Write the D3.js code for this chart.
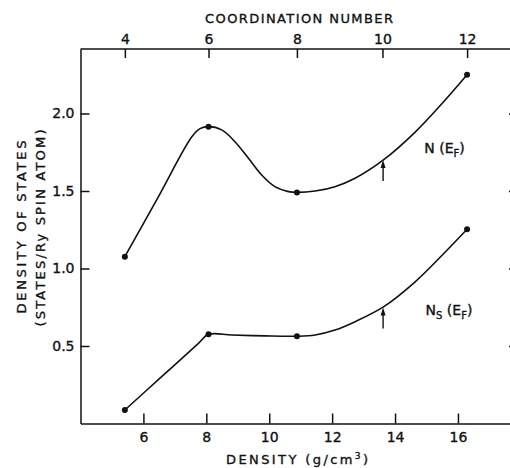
<!DOCTYPE html>
<html>
<head>
<meta charset="utf-8">
<script src="https://cdn.jsdelivr.net/npm/d3@7"></script>
<style>
body { margin: 0; background: #fff; }
text { font-family: "DejaVu Sans", sans-serif; fill: #111; stroke: #111; stroke-width: 0.35px; }
</style>
</head>
<body>
<svg id="chart" width="510" height="468"></svg>
<script>
// the four calculated points (dots)
let densities = [5.41, 8.07, 10.88, 16.29];
let nEF = [1.076, 1.915, 1.491, 2.25];
let nsEF = [0.087, 0.575, 0.563, 1.253];

// the smooth curves as drawn
let nCurveD = [5.41, 6.47, 7.54, 7.80, 8.07, 8.49, 8.91, 9.34, 9.76, 10.18, 10.61, 10.88, 11.46, 12.09, 12.73, 13.63, 14.64, 15.48, 16.29];
let nCurveV = [1.076, 1.461, 1.850, 1.902, 1.915, 1.894, 1.818, 1.711, 1.603, 1.528, 1.496, 1.491, 1.500, 1.528, 1.582, 1.700, 1.880, 2.061, 2.25];
let nsCurveD = [5.41, 6.58, 7.75, 8.07, 8.81, 9.87, 10.88, 11.46, 12.09, 12.73, 13.63, 14.64, 15.48, 16.29];
let nsCurveV = [0.087, 0.302, 0.517, 0.575, 0.571, 0.565, 0.563, 0.571, 0.603, 0.657, 0.752, 0.914, 1.082, 1.253];

let densityTicks = [6, 8, 10, 12, 14, 16];
let dosTicks = [0.5, 1.0, 1.5, 2.0];
let coordTicks = [4, 6, 8, 10, 12];
let coordDensity = [5.41, 8.07, 10.88, 13.6, 16.29];
let arrowDensity = 13.62;
let arrowTips = [1.70, 0.748];
let labelDensity = [14.93, 14.97];
let labelValues = [1.745, 0.70];

let svg, x, y, xTop;

document.addEventListener("DOMContentLoaded", function(){
    svg = d3.select('#chart');
    makeScales();
    drawAxes();
    drawCurve(nCurveD, nCurveV, nEF);
    drawCurve(nsCurveD, nsCurveV, nsEF);
    drawArrows();
    drawLabels();
});

function makeScales(){
    x = d3.scaleLinear()
        .domain([4, 17.75])
        .range([80.5, 513]);
    y = d3.scaleLinear()
        .domain([0, 2.416])
        .range([423.5, 49]);
    // coordination number sits on the density axis, not linear
    xTop = d3.scaleLinear()
        .domain(coordTicks)
        .range(coordDensity.map(d => x(d)));
}

function styleAxis(g){
    g.selectAll("path, line").attr("stroke", "#111").attr("stroke-width", 1.5);
    g.selectAll("text").attr("font-size", 14).attr("fill", "#111")
        .attr("font-family", '"DejaVu Sans", sans-serif');
}

function drawAxes(){
    svg.append("g")
        .attr("transform", `translate(0,${y(0)})`)
        .call(d3.axisBottom(x).tickValues(densityTicks)
            .tickSizeInner(-10).tickSizeOuter(0).tickPadding(9))
        .call(styleAxis);

    svg.append("g")
        .attr("transform", `translate(${x(4)},0)`)
        .call(d3.axisLeft(y).tickValues(dosTicks).tickFormat(d3.format(".1f"))
            .tickSizeInner(-9).tickSizeOuter(0).tickPadding(6))
        .call(styleAxis);

    // right axis is mostly off the page, only the tick stubs show
    svg.append("g")
        .attr("transform", `translate(${x(17.75)},0)`)
        .call(d3.axisRight(y).tickValues(dosTicks).tickFormat("")
            .tickSizeInner(-4).tickSizeOuter(0))
        .call(styleAxis);

    svg.append("g")
        .attr("transform", `translate(0,${y.range()[1]})`)
        .call(d3.axisTop(xTop).tickValues(coordTicks)
            .tickSizeInner(-9).tickSizeOuter(0).tickPadding(5))
        .call(g => g.select(".domain").remove())
        .call(styleAxis);

    svg.append("line")
        .attr("x1", x.range()[0]).attr("x2", x.range()[1])
        .attr("y1", y.range()[1]).attr("y2", y.range()[1])
        .attr("stroke", "#111").attr("stroke-width", 1.5);

    svg.append("text")
        .attr("x", 299).attr("y", 23)
        .attr("text-anchor", "middle")
        .attr("font-size", 13)
        .attr("textLength", 188).attr("lengthAdjust", "spacing")
        .text("COORDINATION NUMBER");

    let bt = svg.append("text")
        .attr("x", 226).attr("y", 464)
        .attr("font-size", 13)
        .attr("textLength", 142).attr("lengthAdjust", "spacing");
    bt.append("tspan").text("DENSITY  (g/cm");
    bt.append("tspan").attr("font-size", 9).attr("dy", -5).text("3");
    bt.append("tspan").attr("dy", 5).text(")");

    svg.append("text")
        .attr("transform", "translate(26,227) rotate(-90)")
        .attr("text-anchor", "middle")
        .attr("font-size", 13)
        .attr("textLength", 173).attr("lengthAdjust", "spacing")
        .text("DENSITY OF STATES");
    svg.append("text")
        .attr("transform", "translate(45,228) rotate(-90)")
        .attr("text-anchor", "middle")
        .attr("font-size", 13)
        .attr("textLength", 197).attr("lengthAdjust", "spacing")
        .text("(STATES/Ry SPIN ATOM)");
}

function drawCurve(curveD, curveV, dots){
    let trace = curveD.map((d, i) => ({d: d, v: curveV[i]}));
    let pts = densities.map((d, i) => ({d: d, v: dots[i]}));
    let line = d3.line()
        .x(p => x(p.d))
        .y(p => y(p.v))
        .curve(d3.curveCatmullRom.alpha(0.5));

    svg.append("path")
        .datum(trace)
        .attr("fill", "none")
        .attr("stroke", "#111")
        .attr("stroke-width", 1.6)
        .attr("d", line);

    svg.selectAll(null)
        .data(pts)
        .enter()
        .append("circle")
            .attr("cx", p => x(p.d))
            .attr("cy", p => y(p.v))
            .attr("r", 3)
            .attr("fill", "#111");
}

function drawArrows(){
    arrowTips.forEach(v => {
        let ax = x(arrowDensity), ay = y(v);
        svg.append("line")
            .attr("x1", ax).attr("x2", ax)
            .attr("y1", ay + 4).attr("y2", ay + 21)
            .attr("stroke", "#111").attr("stroke-width", 1.4);
        svg.append("path")
            .attr("d", `M${ax},${ay} L${ax - 2.5},${ay + 8} L${ax + 2.5},${ay + 8} Z`)
            .attr("fill", "#111");
    });
}

function drawLabels(){
    let t1 = svg.append("text")
        .attr("x", x(labelDensity[0])).attr("y", y(labelValues[0]))
        .attr("font-size", 14);
    t1.append("tspan").text("N (E");
    t1.append("tspan").attr("font-size", 10).attr("dy", 4).text("F");
    t1.append("tspan").attr("dy", -4).text(")");

    let t2 = svg.append("text")
        .attr("x", x(labelDensity[1])).attr("y", y(labelValues[1]))
        .attr("font-size", 14);
    t2.append("tspan").text("N");
    t2.append("tspan").attr("font-size", 10).attr("dy", 4).text("S");
    t2.append("tspan").attr("dy", -4).text(" (E");
    t2.append("tspan").attr("font-size", 10).attr("dy", 4).text("F");
    t2.append("tspan").attr("dy", -4).text(")");
}
</script>
</body>
</html>
